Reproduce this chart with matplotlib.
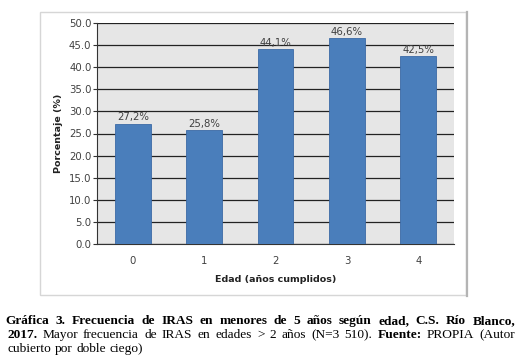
import matplotlib
matplotlib.use("Agg")
import matplotlib.pyplot as plt
from matplotlib.patches import Rectangle
from matplotlib.lines import Line2D

categories = ["0", "1", "2", "3", "4"]
values = [27.2, 25.8, 44.1, 46.6, 42.5]
value_labels = ["27,2%", "25,8%", "44,1%", "46,6%", "42,5%"]
yticks = [0, 5, 10, 15, 20, 25, 30, 35, 40, 45, 50]

W, H = 519, 358
fig = plt.figure(figsize=(W / 100, H / 100), dpi=100)
fig.patch.set_facecolor("white")

# outer chart frame
fig.add_artist(Rectangle((40 / W, 1 - 295 / H), (466 - 40) / W, (295 - 12) / H,
                         transform=fig.transFigure, fill=False,
                         edgecolor="#d6d6d6", lw=1.0))
fig.add_artist(Line2D([466.5 / W, 466.5 / W], [1 - 295.5 / H, 1 - 12 / H],
                      transform=fig.transFigure, color="#b4b4b4", lw=1.6))

ax = fig.add_axes([97 / W, 1 - 244 / H, (454 - 97) / W, (244 - 23) / H])
ax.set_facecolor("#e6e6e6")
x = range(len(categories))
ax.bar(x, values, width=0.5, color="#4a7ebb", edgecolor="#3c6aa5", lw=0.6, zorder=3)
ax.set_ylim(0, 50)
ax.set_xlim(-0.5, len(categories) - 0.5)
ax.set_yticks(yticks)
ax.set_yticklabels([f"{v:.1f}" for v in yticks], fontsize=7.3, color="#404040")
ax.set_xticks(list(x))
ax.set_xticklabels(categories, fontsize=7.3, color="#404040")
ax.tick_params(axis="x", length=0, pad=9)
ax.tick_params(axis="y", length=3, width=0.8, color="#333333", pad=1)
ax.yaxis.grid(True, color="#222222", lw=0.9, zorder=0)
ax.set_axisbelow(True)
for s in ["top", "right"]:
    ax.spines[s].set_visible(False)
ax.spines["left"].set_color("#333333")
ax.spines["bottom"].set_color("#333333")
for xi, v, lab in zip(x, values, value_labels):
    ax.text(xi, v + 0.3, lab, ha="center", va="bottom", fontsize=7.3, color="#404040", zorder=4)
ax.set_ylabel("Porcentaje (%)", fontsize=6.8, fontweight="bold", color="#222222", labelpad=4)
ax.set_xlabel("Edad (años cumplidos)", fontsize=6.8, fontweight="bold", color="#222222", labelpad=6)

# caption with justified lines
fig.canvas.draw()
renderer = fig.canvas.get_renderer()
fs = 9.6
serif = "Liberation Serif"

def width_of(s, bold):
    t = fig.text(0, 0, s, fontsize=fs, family=serif, fontweight="bold" if bold else "normal")
    bb = t.get_window_extent(renderer)
    t.remove()
    return bb.width

def justified(segments, x0, x1, ybase):
    words = []
    for txt, bold in segments:
        for w in txt.split(" "):
            if w:
                words.append((w, bold))
    widths = [width_of(w, b) for w, b in words]
    gap = (x1 - x0 - sum(widths)) / (len(words) - 1)
    xc = x0
    for (w, b), wd in zip(words, widths):
        fig.text(xc / W, 1 - ybase / H, w, fontsize=fs, family=serif,
                 fontweight="bold" if b else "normal", va="baseline", ha="left")
        xc += wd + gap

def plain(segments, x0, ybase):
    xc = x0
    sp = width_of("a a", False) - 2 * width_of("a", False)
    for txt, bold in segments:
        for w in txt.split(" "):
            if w:
                wd = width_of(w, bold)
                fig.text(xc / W, 1 - ybase / H, w, fontsize=fs, family=serif,
                         fontweight="bold" if bold else "normal", va="baseline", ha="left")
                xc += wd + sp

justified([("Gráfica 3. Frecuencia de IRAS en menores de 5 años según edad, C.S. Río Blanco,", True)],
          5, 515, 324)
justified([("2017.", True), ("Mayor frecuencia de IRAS en edades > 2 años (N=3 510).", False),
           ("Fuente:", True), ("PROPIA (Autor", False)], 7, 515, 338)
plain([("cubierto por doble ciego)", False)], 8, 352)

fig.savefig("out.png", dpi=100)
